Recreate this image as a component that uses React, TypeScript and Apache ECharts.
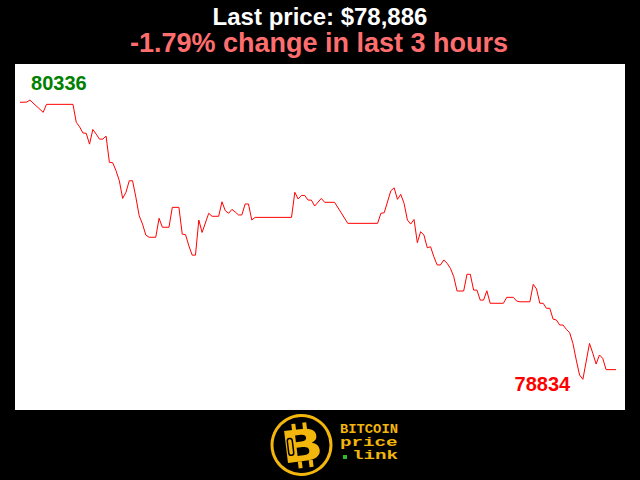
import React, { useEffect, useRef } from "react";
import * as echarts from "echarts";

// minute index within the last 3 hours
const minutes = [
  0, 2, 3, 7, 8, 16, 17, 18, 19, 20, 21, 22, 23, 24, 25, 26, 27, 28, 29, 30,
  31, 32, 33, 34, 35, 36, 37, 38, 39, 41, 42, 43, 45, 46, 48, 49, 50, 51, 52, 53,
  54, 55, 57, 58, 60, 61, 62, 63, 64, 65, 66, 67, 68, 69, 70, 71, 82, 83, 84, 85,
  86, 87, 88, 89, 91, 92, 95, 97, 99, 108, 109, 110, 112, 113, 114, 115, 116, 117, 118, 119,
  120, 121, 122, 123, 124, 125, 126, 127, 128, 129, 130, 131, 132, 134, 135, 136, 137, 138, 139, 140,
  141, 142, 146, 147, 149, 150, 151, 154, 155, 156, 157, 158, 159, 160, 161, 162, 163, 164, 165, 166,
  167, 168, 169, 170, 172, 173, 174, 175, 176, 177, 180,
];

const prices = [
  80324, 80325, 80336, 80270, 80313, 80313, 80216, 80192, 80159, 80157, 80099, 80178, 80153, 80126, 80126, 80142, 80001, 79999, 79956, 79902,
  79807, 79840, 79902, 79902, 79813, 79714, 79669, 79610, 79598, 79598, 79700, 79652, 79652, 79759, 79759, 79615, 79612, 79552, 79502, 79502,
  79691, 79624, 79727, 79711, 79711, 79789, 79741, 79727, 79748, 79734, 79718, 79718, 79777, 79777, 79691, 79705, 79705, 79840, 79804, 79823,
  79823, 79798, 79798, 79766, 79807, 79786, 79786, 79730, 79673, 79673, 79727, 79730, 79848, 79864, 79802, 79829, 79780, 79691, 79669, 79694,
  79569, 79628, 79610, 79542, 79547, 79493, 79449, 79449, 79476, 79458, 79431, 79386, 79309, 79309, 79399, 79399, 79314, 79314, 79260, 79260,
  79310, 79243, 79243, 79275, 79275, 79255, 79251, 79251, 79345, 79320, 79243, 79243, 79216, 79216, 79158, 79153, 79126, 79126, 79103, 79085,
  79027, 78938, 78857, 78834, 79027, 78974, 78916, 78965, 78947, 78886, 78886,
];

const titleText = "Last price: $78,886";
const subtitleText = "-1.79% change in last 3 hours";
const logoLines = ["BITCOIN", "price", "link"];

const YELLOW = "#f3b60c";

export default function App() {
  const ref = useRef<HTMLDivElement>(null);

  useEffect(() => {
    if (!ref.current) return;
    const chart = echarts.init(ref.current, undefined, { renderer: "svg" });
    const data = minutes.map((m, i) => [m, prices[i]]);
    const sans = "'Liberation Sans', Arial, sans-serif";
    const mono = "'Liberation Mono', 'DejaVu Sans Mono', monospace";
    chart.setOption({
      animation: false,
      backgroundColor: "#000",
      grid: {
        left: 15,
        right: 15,
        top: 64,
        bottom: 70,
        show: true,
        backgroundColor: "#fff",
        borderWidth: 0,
      },
      xAxis: {
        type: "value",
        min: -1.51,
        max: 182.72,
        show: false,
      },
      yAxis: {
        type: "value",
        min: 78669,
        max: 80530,
        show: false,
      },
      series: [
        {
          type: "line",
          data,
          symbol: "none",
          lineStyle: { color: "#ff0000", width: 1 },
          markPoint: {
            symbol: "circle",
            symbolSize: 0,
            data: [
              {
                type: "max",
                label: {
                  show: true,
                  position: "inside",
                  offset: [29, -17],
                  color: "#008000",
                  fontSize: 20,
                  fontWeight: "bold",
                  fontFamily: sans,
                  formatter: "{c}",
                },
              },
              {
                type: "min",
                label: {
                  show: true,
                  position: "inside",
                  offset: [-40.5, 4.5],
                  color: "#ff0000",
                  fontSize: 20,
                  fontWeight: "bold",
                  fontFamily: sans,
                  formatter: "{c}",
                },
              },
            ],
          },
        },
      ],
      graphic: [
        {
          type: "text",
          x: 320,
          y: 16,
          style: {
            text: titleText,
            fill: "#fff",
            font: `bold 24px ${sans}`,
            align: "center",
            verticalAlign: "middle",
          },
        },
        {
          type: "text",
          x: 319,
          y: 42.5,
          style: {
            text: subtitleText,
            fill: "#ff6e6e",
            font: `bold 27px ${sans}`,
            align: "center",
            verticalAlign: "middle",
          },
        },
        {
          type: "circle",
          shape: { cx: 301.5, cy: 445, r: 29.5 },
          style: { fill: "#000", stroke: YELLOW, lineWidth: 3 },
        },
        {
          type: "group",
          x: 302,
          y: 446,
          rotation: 0.12,
          children: [
            {
              type: "text",
              x: 0,
              y: 0,
              scaleX: 1.25,
              style: {
                text: "B",
                fill: YELLOW,
                font: "bold 44px 'DejaVu Sans', sans-serif",
                align: "center",
                verticalAlign: "middle",
              },
            },
            { type: "rect", shape: { x: -8, y: -23, width: 4, height: 7 }, style: { fill: YELLOW } },
            { type: "rect", shape: { x: 3, y: -23, width: 4, height: 7 }, style: { fill: YELLOW } },
            { type: "rect", shape: { x: -6, y: 15, width: 4, height: 7 }, style: { fill: YELLOW } },
            { type: "rect", shape: { x: 5, y: 15, width: 4, height: 7 }, style: { fill: YELLOW } },
            {
              type: "rect",
              shape: { x: -14, y: -9, width: 5, height: 17, r: 2.5 },
              style: { fill: "none", stroke: "#000", lineWidth: 1.5 },
            },
          ],
        },
        {
          type: "text",
          x: 340,
          y: 430,
          scaleX: 1.15,
          style: {
            text: logoLines[0],
            fill: YELLOW,
            font: `bold 12px ${mono}`,
            align: "left",
            verticalAlign: "middle",
          },
        },
        {
          type: "text",
          x: 340,
          y: 443,
          scaleX: 1.6,
          style: {
            text: logoLines[1],
            fill: YELLOW,
            font: `bold 12px ${mono}`,
            align: "left",
            verticalAlign: "middle",
          },
        },
        {
          type: "rect",
          shape: { x: 343, y: 455, width: 4, height: 4 },
          style: { fill: "#2db82d" },
        },
        {
          type: "text",
          x: 352,
          y: 456.5,
          scaleX: 1.6,
          style: {
            text: logoLines[2],
            fill: YELLOW,
            font: `bold 12px ${mono}`,
            align: "left",
            verticalAlign: "middle",
          },
        },
      ],
    });
    return () => chart.dispose();
  }, []);

  return (
    <div
      ref={ref}
      style={{ position: "fixed", left: 0, top: 0, width: 640, height: 480 }}
    />
  );
}
